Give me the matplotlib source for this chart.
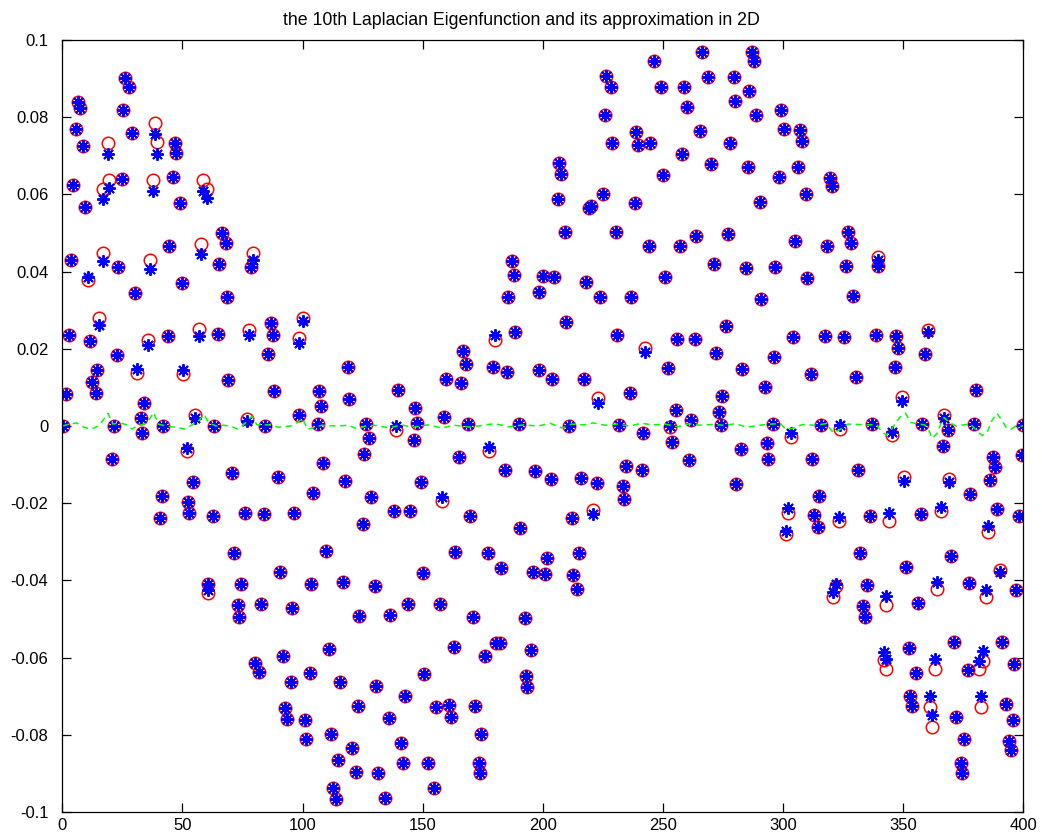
"""
Odtworzenie wykresu: 10. funkcja własna Laplasjanu i jej aproksymacja w 2D.
Wartości odczytane z obrazka (w tysięcznych).
"""
import numpy as np
import matplotlib
matplotlib.use("Agg")
import matplotlib.pyplot as plt

plt.rcParams['font.family'] = ['Liberation Sans', 'DejaVu Sans']
plt.rcParams['axes.unicode_minus'] = False

# numer punktu (oś x)
idx = [
    0.4, 1.4, 2.8, 3.6, 4.3, 5.6, 6.4, 7.2, 8.8, 9.4,
    10.8, 11.5, 12.5, 13.9, 14.6, 15.3, 16.8, 17.0, 18.9, 19.4,
    20.5, 21.7, 22.6, 23.3, 24.7, 25.4, 26.1, 27.8, 29.0, 30.3,
    31.2, 32.8, 33.3, 34.2, 35.8, 36.5, 37.8, 38.6, 39.3, 40.8,
    41.4, 42.0, 43.9, 44.4, 46.0, 46.7, 47.2, 49.0, 49.7, 50.4,
    51.8, 52.5, 52.9, 54.6, 55.3, 56.9, 57.6, 58.5, 60.1, 60.6,
    60.8, 62.9, 63.0, 65.0, 65.3, 66.4, 68.0, 68.7, 69.0, 70.8,
    71.6, 73.0, 73.6, 74.4, 76.1, 76.8, 77.5, 78.5, 79.5, 80.0,
    81.7, 82.6, 84.1, 84.5, 85.5, 87.0, 87.8, 88.3, 89.9, 90.7,
    92.0, 92.8, 93.4, 95.1, 95.5, 96.5, 98.6, 98.7, 100.0, 101.0,
    101.4, 102.9, 103.6, 104.5, 106.6, 107.0, 107.5, 108.7, 109.7, 110.8,
    111.8, 112.5, 113.9, 114.7, 115.4, 116.8, 117.8, 119.0, 119.5, 120.5,
    122.2, 122.9, 123.3, 125.0, 125.7, 126.4, 127.8, 128.6, 130.0, 130.5,
    131.2, 134.4, 135.8, 136.5, 138.2, 138.9, 139.6, 141.0, 141.8, 142.5,
    143.9, 144.9, 146.3, 146.9, 147.6, 149.3, 150.0, 150.6, 152.1, 154.9,
    155.7, 157.1, 158.0, 158.8, 159.9, 160.9, 161.6, 163.2, 163.6, 165.3,
    166.0, 166.7, 168.2, 168.8, 169.6, 171.0, 171.7, 173.3, 173.7, 174.4,
    176.1, 177.0, 177.7, 179.2, 179.9, 180.6, 182.0, 182.7, 184.2, 185.1,
    185.6, 187.2, 187.9, 188.6, 190.0, 190.7, 192.4, 192.9, 193.5, 195.1,
    196.1, 196.7, 198.3, 198.6, 200.0, 201.1, 201.8, 203.2, 203.9, 204.6,
    206.3, 206.9, 207.6, 209.2, 209.7, 211.1, 212.0, 212.6, 214.3, 215.0,
    215.7, 217.1, 217.8, 219.2, 220.0, 220.8, 222.4, 222.9, 223.8, 225.1,
    225.8, 226.5, 228.2, 228.9, 230.3, 230.9, 231.6, 233.3, 233.7, 234.7,
    236.3, 236.8, 238.3, 238.9, 239.7, 241.1, 241.8, 242.5, 244.2, 244.8,
    246.2, 249.3, 250.0, 250.7, 252.2, 252.9, 253.6, 255.3, 256.0, 257.3,
    258.0, 258.8, 260.2, 260.9, 261.6, 263.2, 263.6, 265.3, 266.1, 268.9,
    269.9, 271.3, 272.0, 273.3, 274.0, 274.7, 276.4, 277.0, 277.8, 279.6,
    280.0, 280.6, 282.4, 283.1, 284.5, 285.2, 285.8, 287.2, 287.9, 288.6,
    290.3, 291.0, 292.5, 293.1, 293.9, 295.6, 296.2, 296.7, 298.3, 299.0,
    300.4, 301.1, 302.1, 303.5, 304.2, 304.9, 306.4, 307.1, 307.8, 309.4,
    310.1, 311.5, 312.2, 313.0, 314.7, 315.1, 315.7, 317.5, 318.2, 319.4,
    320.2, 320.8, 322.2, 323.1, 323.6, 325.4, 326.1, 327.0, 328.4, 329.2,
    330.3, 331.3, 331.9, 333.3, 334.2, 334.9, 336.3, 337.0, 338.6, 339.3,
    339.7, 341.9, 342.8, 343.0, 344.2, 345.3, 346.5, 347.2, 348.0, 349.5,
    350.4, 351.1, 352.5, 353.0, 353.7, 355.2, 356.0, 357.6, 358.0, 359.0,
    360.4, 361.1, 361.9, 363.3, 363.9, 365.7, 366.7, 367.1, 368.5, 369.2,
    369.8, 371.2, 371.9, 373.9, 374.4, 375.1, 376.8, 377.5, 377.9, 379.6,
    380.3, 381.4, 382.3, 383.3, 384.4, 385.4, 386.1, 387.2, 388.3, 389.0,
    390.3, 391.1, 392.7, 394.1, 394.8, 395.5, 396.2, 396.9, 398.3, 399.4,
    400.0,
]

# funkcja własna (czerwone kółka), w tysięcznych
exact_e3 = [
    0, 8.3, 23.7, 43.0, 62.4, 77.0, 84.0, 82.3, 72.5, 56.8,
    37.7, 22.1, 11.5, 8.6, 14.5, 27.9, 44.9, 61.3, 73.4, 63.7,
    -8.6, 0, 18.4, 41.3, 63.9, 81.9, 90.2, 87.9, 76.0, 34.4,
    13.8, 2.0, -1.7, 5.9, 22.3, 43.0, 63.7, 78.6, 73.7, -23.9,
    -18.1, 0, 23.3, 46.6, 64.6, 73.2, 70.8, 57.9, 37.1, 13.6,
    -6.6, -19.6, -22.6, -14.6, 2.8, 25.1, 47.1, 63.7, 61.3, -43.2,
    -40.8, -23.2, 0, 23.8, 41.9, 50.1, 47.3, 33.5, 11.9, -12.3,
    -33.0, -46.4, -49.4, -40.9, -22.5, 1.8, 24.9, 41.2, 44.9, -61.5,
    -63.6, -46.2, -22.8, 0, 18.7, 26.8, 23.6, 9.2, -13.3, -37.7,
    -59.6, -73.1, -75.9, -66.4, -47.2, -22.5, 2.8, 22.7, 27.9, -76.2,
    -81.1, -64.1, -40.8, -17.3, 0.4, 9.2, 5.2, -9.5, -32.3, -57.8,
    -79.8, -93.9, -96.5, -86.4, -66.4, -40.5, -14.2, 15.4, 6.9, -83.5,
    -89.7, -72.5, -49.1, -25.4, -7.3, 0.5, -3.2, -18.3, -41.4, -67.3,
    -90.0, -96.3, -75.7, -49.0, -22.0, -1.0, 9.3, -82.0, -87.4, -69.9,
    -46.2, -21.9, -3.6, 4.6, 0.9, -14.4, -38.2, -64.2, -87.2, -93.9,
    -72.9, -46.1, -19.4, 2.4, 12.1, -72.3, -75.3, -57.3, -32.7, -7.9,
    11.1, 19.5, 16.1, 0.4, -23.2, -49.4, -72.5, -87.2, -89.8, -79.9,
    -59.5, -32.8, -6.4, 15.2, 22.3, -56.3, -56.1, -36.9, -11.4, 14.1,
    33.5, 42.8, 39.1, 24.3, 0.4, -26.3, -49.7, -64.7, -67.5, -58.0,
    -37.9, -11.6, 14.5, 34.8, 38.9, -38.3, -34.1, -13.8, 12.2, 38.7,
    58.7, 68.2, 65.2, 50.2, 26.9, 0, -23.7, -38.6, -42.2, -32.8,
    -13.4, 12.1, 37.4, 56.5, 57.0, -21.8, -14.7, 7.2, 33.5, 60.0,
    80.6, 90.7, 87.7, 73.2, 50.2, 23.7, 0.3, -15.5, -19.0, -10.4,
    8.6, 33.3, 57.9, 76.1, 72.8, -11.4, -1.9, 20.1, 46.6, 73.4,
    94.6, 87.7, 64.9, 38.7, 15.1, -0.3, -4.1, 4.1, 22.5, 46.6,
    70.4, 87.9, 82.7, -8.8, 1.6, 22.5, 49.2, 76.3, 97.0, 90.5,
    67.8, 41.9, 18.8, 3.7, 0.3, 7.8, 26.0, 49.7, 73.2, 90.3,
    84.2, -14.9, -6.0, 14.7, 41.0, 67.0, 86.9, 97.0, 94.6, 80.6,
    58.1, 32.8, 10.2, -4.5, -8.5, 0.5, 17.8, 41.3, 64.6, 81.9,
    76.9, -28.0, -22.5, -2.8, 23.0, 47.9, 67.0, 76.7, 73.9, 60.1,
    38.3, 13.6, -8.6, -23.1, -26.1, -18.0, 0.3, 23.3, 46.6, 64.3,
    62.3, -44.4, -41.5, -24.6, -0.8, 23.0, 41.5, 50.2, 47.3, 33.7,
    12.8, -11.4, -33.0, -46.6, -49.6, -41.2, -23.2, 0.4, 23.7, 41.5,
    43.9, -60.6, -46.4, -63.0, -24.6, -2.3, 15.2, 23.3, 20.3, 7.6,
    -13.3, -36.4, -57.4, -70.0, -72.5, -63.9, -45.9, -22.8, 0.4, 18.7,
    24.9, -72.9, -78.1, -63.0, -42.3, -21.9, -5.2, 2.8, -1.0, -13.7,
    -33.7, -55.9, -75.3, -87.2, -89.8, -81.2, -63.2, -40.6, -17.6, 0.4,
    9.3, -63.0, -72.7, -60.8, -44.2, -27.4, -14.0, -8.1, -10.7, -21.5,
    -37.3, -55.9, -71.9, -81.5, -83.8, -76.2, -61.7, -42.5, -23.2, -7.5,
    0.3,
]

# aproksymacja (niebieskie gwiazdki), w tysięcznych
approx_e3 = [
    0, 8.3, 23.7, 43.0, 62.4, 77.0, 84.0, 82.3, 72.5, 56.8,
    38.7, 22.1, 11.5, 8.6, 14.5, 26.2, 42.8, 58.7, 70.5, 61.6,
    -8.6, 0, 18.4, 41.3, 63.9, 81.9, 90.2, 87.9, 76.0, 34.4,
    14.8, 2.0, -1.7, 5.9, 21.0, 40.8, 61.0, 75.6, 70.5, -23.9,
    -18.1, 0, 23.3, 46.6, 64.6, 73.2, 70.8, 57.9, 37.1, 14.5,
    -5.8, -19.6, -22.6, -14.6, 2.0, 23.3, 44.6, 61.0, 59.0, -42.5,
    -40.8, -23.2, 0, 23.8, 41.9, 50.1, 47.3, 33.5, 11.9, -12.3,
    -33.0, -46.4, -49.4, -40.9, -22.5, 1.3, 23.6, 41.2, 42.9, -61.5,
    -63.6, -46.2, -22.8, 0, 18.7, 26.8, 23.6, 9.2, -13.3, -37.7,
    -59.6, -73.1, -75.9, -66.4, -47.2, -22.5, 2.8, 21.4, 27.3, -76.2,
    -81.1, -64.1, -40.8, -17.3, 0.4, 9.2, 5.2, -9.5, -32.3, -57.8,
    -79.8, -93.9, -96.5, -86.4, -66.4, -40.5, -14.2, 15.4, 6.9, -83.5,
    -89.7, -72.5, -49.1, -25.4, -7.3, 0.5, -3.2, -18.3, -41.4, -67.3,
    -90.0, -96.3, -75.7, -49.0, -22.0, 0, 9.3, -82.0, -87.4, -69.9,
    -46.2, -21.9, -3.6, 4.6, 0.9, -14.4, -38.2, -64.2, -87.2, -93.9,
    -72.9, -46.1, -18.5, 2.4, 12.1, -72.3, -75.3, -57.3, -32.7, -7.9,
    11.1, 19.5, 16.1, 0.4, -23.2, -49.4, -72.5, -87.2, -89.8, -79.9,
    -59.5, -32.8, -5.4, 15.2, 23.6, -56.3, -56.1, -36.9, -11.4, 14.1,
    33.5, 42.8, 39.1, 24.3, 0.4, -26.3, -49.7, -64.7, -67.5, -58.0,
    -37.9, -11.6, 14.5, 34.8, 38.9, -38.3, -34.1, -13.8, 12.2, 38.7,
    58.7, 68.2, 65.2, 50.2, 26.9, 0, -23.7, -38.6, -42.2, -32.8,
    -13.4, 12.1, 37.4, 56.5, 57.0, -22.8, -14.7, 6.0, 33.5, 60.0,
    80.6, 90.7, 87.7, 73.2, 50.2, 23.7, 0.3, -15.5, -19.0, -10.4,
    8.6, 33.3, 57.9, 76.1, 72.8, -11.4, -1.9, 19.1, 46.6, 73.4,
    94.6, 87.7, 64.9, 38.7, 15.1, 0, -4.1, 4.1, 22.5, 46.6,
    70.4, 87.9, 82.7, -8.8, 1.6, 22.5, 49.2, 76.3, 97.0, 90.5,
    67.8, 41.9, 18.8, 3.7, 0.3, 7.8, 26.0, 49.7, 73.2, 90.3,
    84.2, -14.9, -6.0, 14.7, 41.0, 67.0, 86.9, 97.0, 94.6, 80.6,
    58.1, 32.8, 10.2, -4.5, -8.5, 0.5, 17.8, 41.3, 64.6, 81.9,
    76.9, -27.1, -21.3, -1.7, 23.0, 47.9, 67.0, 76.7, 73.9, 60.1,
    38.3, 13.6, -8.6, -23.1, -26.1, -18.0, 0.3, 23.3, 46.6, 64.3,
    62.3, -42.9, -40.9, -23.5, 0.3, 23.0, 41.5, 50.2, 47.3, 33.7,
    12.8, -11.4, -33.0, -46.6, -49.6, -41.2, -23.2, 0.4, 23.7, 41.5,
    43.0, -58.6, -44.0, -60.4, -22.6, -1.5, 15.2, 23.3, 20.3, 6.6,
    -14.3, -36.4, -57.4, -70.0, -72.5, -63.9, -45.9, -22.8, 0.4, 18.7,
    24.3, -70.0, -74.9, -60.4, -40.5, -20.9, -5.2, 2.2, -1.0, -14.6,
    -33.7, -55.9, -75.3, -87.2, -89.8, -81.2, -63.2, -40.6, -17.6, 0.4,
    9.3, -60.8, -70.0, -58.2, -42.5, -25.9, -14.0, -8.1, -10.7, -21.5,
    -37.7, -55.9, -71.9, -81.5, -83.8, -76.2, -61.7, -42.5, -23.2, -7.5,
    0.3,
]

# błąd (zielona linia przerywana), w tysięcznych
err_x = [
    0, 3, 6, 9, 12, 15, 17, 19, 21, 24, 27, 29, 31, 34, 36, 38, 40, 43,
    47, 51, 54, 57, 59, 61, 64, 67, 70, 73, 75, 78, 79, 81, 86, 90, 95,
    98, 100, 102, 104, 108, 114, 119, 123, 126, 130, 136, 141, 146, 152,
    158, 163, 170, 176, 180, 186, 192, 198, 203, 208, 212, 217, 221, 226,
    231, 236, 241, 246, 251, 256, 261, 265, 270, 276, 280, 285, 290, 295,
    299, 301, 304, 308, 313, 318, 321, 324, 327, 331, 335, 339, 341, 343,
    345, 347, 349, 351, 353, 356, 359, 361, 362, 364, 366, 367, 369, 372,
    375, 378, 381, 383, 385, 387, 389, 391, 393, 395, 397, 400,
]
err_e3 = [
    0, 0.5, 0.8, -0.3, -0.8, 0, 1.5, 3.3, 0.5, 0.8, 0.3, -0.8, 0, 0.5, 1.5,
    3.5, 0.5, 0, -0.3, -0.8, 0.3, 1.5, 3.0, 0.8, 0, 0.2, 0, -0.8, 0, 2.0,
    2.5, 0.3, 0.3, -0.3, 0, 1.0, 2.0, -0.8, -0.5, 0.2, 0, 0.2, -0.8, 0,
    0.2, -0.5, 0.3, -0.3, 0.3, -0.5, 0.2, -0.3, 0.3, 0.6, -0.2, 0.3, 0,
    0.7, -0.5, 0.5, 0.3, 0.8, 0.2, 0.5, 0, 0.7, 0.3, 0.5, -0.2, 0.6, 0.2,
    0.4, 0.2, 0.6, -0.3, 0.2, 0.5, 0.6, -0.8, -0.6, 0.4, 0.2, 0.6, -1.8,
    -0.8, 0.5, 0.4, 0.3, 0.4, -1.5, -2.3, -1.0, 1.0, 2.5, 3.3, 1.0, 0.5,
    0.3, -1.5, -3.2, -2.0, 1.0, 2.2, 1.0, 0, 0.3, 0.5, -1.5, -2.5, -1.5,
    1.5, 3.3, 1.5, -0.5, -0.8, 0, 0,
]

x_ticks = [0, 50, 100, 150, 200, 250, 300, 350, 400]
y_ticks = [-0.1, -0.08, -0.06, -0.04, -0.02, 0, 0.02, 0.04, 0.06, 0.08, 0.1]

x = np.array(idx)
exact = np.array(exact_e3) / 1000
approx = np.array(approx_e3) / 1000

fig = plt.figure(figsize=(10.42, 8.35), dpi=100)
ax = fig.add_axes([0.0598, 0.0275, 0.9223, 0.9246])

ax.plot(x, exact, 'o', color='red', markerfacecolor='none',
        markersize=9, markeredgewidth=1.1)
ax.plot(x, approx, linestyle='none', marker=(8, 2, 0), color='blue',
        markersize=9, markeredgewidth=1.4)
ax.plot(err_x, np.array(err_e3) / 1000, '--', color='#00ff00', linewidth=1.1,
        dashes=(4, 3))

ax.set_xlim(0, 400)
ax.set_ylim(-0.1, 0.1)
ax.set_xticks(x_ticks)
ax.set_yticks(y_ticks)
ax.set_yticklabels(['%g' % t for t in y_ticks])
ax.tick_params(direction='in', top=True, right=True, length=6.5,
               width=0.9, labelsize=12)
ax.tick_params(axis='y', pad=10)
ax.tick_params(axis='x', pad=4)
for s in ax.spines.values():
    s.set_linewidth(0.9)
ax.set_title('the 10th Laplacian Eigenfunction and its approximation in 2D',
             fontsize=12.8, pad=11, x=0.478)

fig.savefig('out.png', dpi=100)
